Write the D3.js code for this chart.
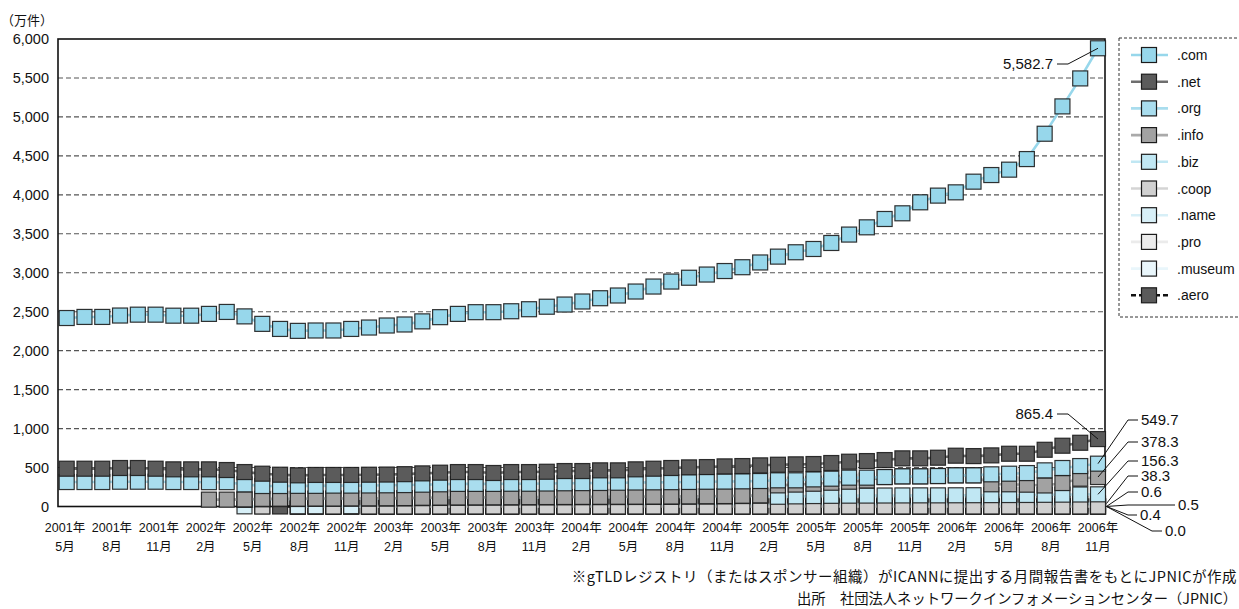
<!DOCTYPE html>
<html>
<head>
<meta charset="utf-8">
<script src="https://cdn.jsdelivr.net/npm/d3@7"></script>
<style>
  body { margin: 0; background: #fff; }
  text { font-family: "Liberation Sans", Arial, "Noto Sans CJK JP", sans-serif; fill: #111; }
  .jp { font-family: "Noto Sans CJK JP", sans-serif; }
</style>
</head>
<body>
<svg id="chart" width="1239" height="609"></svg>
<script>
// 軸ラベル
const tickYears = ["2001年","2001年","2001年","2002年","2002年","2002年","2002年","2003年","2003年","2003年","2003年",
  "2004年","2004年","2004年","2004年","2005年","2005年","2005年","2005年","2006年","2006年","2006年","2006年"];
const tickMonths = ["5月","8月","11月","2月","5月","8月","11月","2月","5月","8月","11月",
  "2月","5月","8月","11月","2月","5月","8月","11月","2月","5月","8月","11月"];
const yTicks = [0,500,1000,1500,2000,2500,3000,3500,4000,4500,5000,5500,6000];

// 登録数（万件）
const comData = [2419,2433,2433,2451,2462,2462,2449,2449,2472,2497,
  2440,2344,2279,2254,2259,2259,2279,2297,2323,2336,
  2376,2430,2472,2494,2494,2506,2532,2564,2592,2631,
  2673,2708,2759,2823,2887,2936,2977,3022,3071,3132,
  3207,3263,3305,3382,3490,3583,3690,3763,3904,3990,
  4032,4169,4254,4323,4459,4784,5135,5494,5881];
const netData = [485,485,485,494,494,485,477,477,477,468,
  442,421,408,400,405,405,405,408,410,415,
  425,434,442,442,430,442,442,446,455,455,
  464,464,477,485,494,502,506,515,519,528,
  536,541,545,558,575,583,596,618,618,626,
  652,647,656,677,677,728,780,818,865.4];
const orgData = [314,314,314,318,318,318,314,314,312,312,
  284,263,263,265,265,268,268,270,272,275,
  280,285,290,290,290,292,292,295,298,300,
  302,305,308,310,312,315,318,320,323,327,
  336,336,348,357,370,370,378,387,387,391,
  400,400,413,421,429,464,494,519,549.7];
const infoData = [null,null,null,null,null,null,null,null,88,88,
  92,98,100,100,102,102,104,105,106,108,
  112,114,116,117,118,119,120,121,122,123,
  124,125,126,127,128,130,132,134,138,143,
  271,281,292,305,318,334,378,387,387,391,
  400,400,285,285,280,270,301,357,378.3];
const bizData = [null,null,null,null,null,null,null,null,null,null,
  85,92,95,96,98,99,100,101,102,104,
  107,110,112,113,114,115,116,117,118,119,
  120,121,122,123,124,126,128,130,134,139,
  125,130,134,137,139,140,141,142,143,143,
  144,145,146,147,148,150,152,154,156.3];
const coopData = [null,null,null,null,null,null,null,null,null,null,
  null,0.3,null,null,null,0.3,null,0.3,0.3,0.3,
  0.3,0.3,0.3,0.3,0.4,0.4,0.4,0.4,0.4,0.4,
  0.4,0.4,0.4,0.4,0.4,0.4,0.5,0.5,0.5,0.5,
  0.5,0.5,0.5,0.5,0.5,0.5,0.5,0.5,0.5,0.5,
  0.5,0.5,0.5,0.6,0.6,0.6,0.6,0.6,0.6];
const nameData = [null,null,null,null,null,null,null,null,null,null,
  2,2,null,3,3,4,4,5,5,6,
  6,7,7,8,8,9,9,10,10,11,
  12,13,14,15,16,17,18,19,20,21,
  22,23,24,25,26,27,28,29,30,30,
  31,31,32,32,33,34,35,36,38.3];
const proData = [null,null,null,null,null,null,null,null,null,null,
  null,null,null,0.1,0.1,0.1,0.1,0.1,0.1,0.2,
  0.2,0.2,0.2,0.2,0.2,0.2,0.2,0.3,0.3,0.3,
  0.3,0.3,0.3,0.3,0.3,0.3,0.3,0.3,0.4,0.4,
  0.4,0.4,0.4,0.4,0.4,0.4,0.4,0.4,0.4,0.5,
  0.5,0.5,0.5,0.5,0.5,0.5,0.5,0.5,0.5];
const museumData = [null,null,null,null,null,null,null,null,null,null,
  null,null,null,0,0,0,0,0,0,0,
  0,0,0,0,0,0,0,0,0,0,
  0,0,0,0,0,0,0,0,0,0,
  0,0,0,0,0,0,0,0,0,0,
  0,0,0,0,0,0,0,0,0];
const aeroData = [null,null,null,null,null,null,null,null,null,null,
  null,null,0.1,0.1,0.1,0.1,0.1,0.1,0.1,0.1,
  0.2,0.2,0.2,0.2,0.2,0.2,0.2,0.2,0.2,0.2,
  0.2,0.2,0.3,0.3,0.3,0.3,0.3,0.3,0.3,0.3,
  0.3,0.3,0.3,0.3,0.3,0.3,0.3,0.3,0.3,0.4,
  0.4,0.4,0.4,0.4,0.4,0.4,0.4,0.4,0.4];

// 最終月の数値ラベル
const calloutText = ["5,582.7","865.4","549.7","378.3","156.3","38.3","0.6","0.5","0.4","0.0"];
const calloutSeries = [".com",".net",".org",".info",".biz",".name",".coop",".pro",".aero",".museum"];

const note1 = "※gTLDレジストリ（またはスポンサー組織）がICANNに提出する月間報告書をもとにJPNICが作成";
const note2 = "出所　社団法人ネットワークインフォメーションセンター（JPNIC）";

const series = [
  {name: ".com",    values: comData,    fill: "#97d7eb", line: "#97d7eb"},
  {name: ".net",    values: netData,    fill: "#5b5b5b", line: "#6e6e6e"},
  {name: ".org",    values: orgData,    fill: "#a9ddee", line: "#a9ddee"},
  {name: ".info",   values: infoData,   fill: "#a2a2a2", line: "#aaaaaa"},
  {name: ".biz",    values: bizData,    fill: "#c0e7f3", line: "#c0e7f3"},
  {name: ".coop",   values: coopData,   fill: "#d0d0d0", line: "#d4d4d4"},
  {name: ".name",   values: nameData,   fill: "#d7eff7", line: "#d7eff7"},
  {name: ".pro",    values: proData,    fill: "#ebebeb", line: "#ebebeb"},
  {name: ".museum", values: museumData, fill: "#e9f6fb", line: "#e9f6fb"},
  {name: ".aero",   values: aeroData,   fill: "#5b5b5b", line: "#111", dash: "5,3"}
];

// レイアウト
const plot = {left: 58, right: 1105, top: 39, bottom: 506.5};
const M = 15; // マーカーの大きさ

const svg = d3.select("#chart");

const x = d3.scalePoint().domain(d3.range(comData.length)).range([66.7, 1098]);
const xTick = d3.scalePoint().domain(d3.range(tickYears.length)).range([65, 1098]);
const y = d3.scaleLinear().domain([0, 6000]).range([plot.bottom, plot.top]);

// グリッド
svg.append("g").selectAll("line")
  .data(yTicks.filter(d => d > 0 && d < 6000))
  .join("line")
    .attr("x1", plot.left).attr("x2", plot.right)
    .attr("y1", d => y(d)).attr("y2", d => y(d))
    .attr("stroke", "#555").attr("stroke-width", 1.1)
    .attr("stroke-dasharray", "5,3");

// 枠
svg.append("rect")
  .attr("x", plot.left).attr("y", plot.top)
  .attr("width", plot.right - plot.left).attr("height", plot.bottom - plot.top)
  .attr("fill", "none").attr("stroke", "#111").attr("stroke-width", 1.6);

// Y軸
const yAxis = d3.axisLeft(y).tickValues(yTicks).tickSize(0).tickPadding(9).tickFormat(d3.format(","));
svg.append("g")
  .attr("transform", `translate(${plot.left},0)`)
  .call(yAxis)
  .call(g => g.select(".domain").remove())
  .attr("font-family", null).attr("font-size", null)
  .selectAll("text").attr("font-size", 14.5).attr("fill", "#111");

svg.append("text").attr("class", "jp")
  .attr("x", 1).attr("y", 25).attr("font-size", 13).text("（万件）");

// X軸ラベル
const xl = svg.append("g").selectAll("text")
  .data(d3.range(tickYears.length))
  .join("text")
    .attr("text-anchor", "middle")
    .attr("font-size", 12.5)
    .attr("transform", i => `translate(${xTick(i)},0)`);
xl.append("tspan").attr("x", 0).attr("y", 532).text(i => tickYears[i]);
xl.append("tspan").attr("x", 0).attr("y", 551).text(i => tickMonths[i]);

// 系列（後ろの系列から描く）
const line = d3.line()
  .defined(d => d != null)
  .x((d, i) => x(i))
  .y(d => y(d));

series.slice().reverse().forEach(s => {
  const g = svg.append("g");
  g.append("path")
    .attr("d", line(s.values))
    .attr("fill", "none")
    .attr("stroke", s.line)
    .attr("stroke-width", 2.6)
    .attr("stroke-dasharray", s.dash || null);
  g.selectAll("rect")
    .data(s.values.map((v, i) => ({v, i})).filter(d => d.v != null))
    .join("rect")
      .attr("x", d => x(d.i) - M / 2)
      .attr("y", d => y(d.v) - M / 2)
      .attr("width", M).attr("height", M)
      .attr("fill", s.fill)
      .attr("stroke", "#1c1c1c").attr("stroke-width", 1.2)
      .attr("stroke-opacity", 0.9);
});

// 数値ラベルと引き出し線
const calloutLayout = [
  {tx: 1053, ty: 64,  anchor: "end",   near: 1068, far: 1057, center: true},
  {tx: 1053, ty: 414, anchor: "end",   near: 1068, far: 1057, center: true},
  {tx: 1141, ty: 420, anchor: "start", near: 1128, far: 1138, center: true},
  {tx: 1141, ty: 442, anchor: "start", near: 1128, far: 1138, center: true},
  {tx: 1141, ty: 461, anchor: "start", near: 1128, far: 1138, center: true},
  {tx: 1141, ty: 476, anchor: "start", near: 1128, far: 1138, center: false},
  {tx: 1141, ty: 492, anchor: "start", near: 1128, far: 1138, center: false},
  {tx: 1178, ty: 505, anchor: "start", near: 1128, far: 1175, center: false},
  {tx: 1140, ty: 515, anchor: "start", near: 1128, far: 1137, center: false},
  {tx: 1165, ty: 531, anchor: "start", near: 1152, far: 1162, center: false}
];
const last = comData.length - 1;
const cg = svg.append("g");
calloutText.forEach((t, k) => {
  const s = series.find(d => d.name === calloutSeries[k]);
  const L = calloutLayout[k];
  const px = x(last) + (L.center ? 0 : M / 2 + 1);
  const py = y(s.values[last]);
  cg.append("polyline")
    .attr("points", `${px},${py} ${L.near},${L.ty} ${L.far},${L.ty}`)
    .attr("fill", "none").attr("stroke", "#111").attr("stroke-width", 1);
  cg.append("text")
    .attr("x", L.tx).attr("y", L.ty + 5)
    .attr("text-anchor", L.anchor)
    .attr("font-size", 15)
    .text(t);
});

// 凡例
const lg = svg.append("g");
lg.append("rect")
  .attr("x", 1119).attr("y", 38).attr("width", 140).attr("height", 279)
  .attr("fill", "#fff").attr("stroke", "#333").attr("stroke-dasharray", "3,2");
const item = lg.selectAll("g.item")
  .data(series)
  .join("g").attr("class", "item")
    .attr("transform", (d, i) => `translate(0,${55 + i * 26.7})`);
item.append("line")
  .attr("x1", 1131).attr("x2", 1168)
  .attr("stroke", d => d.line).attr("stroke-width", 2.6)
  .attr("stroke-dasharray", d => d.dash || null);
item.append("rect")
  .attr("x", 1149 - M / 2).attr("y", -M / 2).attr("width", M).attr("height", M)
  .attr("fill", d => d.fill).attr("stroke", "#1c1c1c").attr("stroke-width", 1.2);
item.append("text")
  .attr("x", 1177).attr("y", 5).attr("font-size", 14)
  .text(d => d.name);

// 注記
svg.append("text").attr("class", "jp")
  .attr("x", 1237).attr("y", 582).attr("text-anchor", "end").attr("font-size", 14.5)
  .attr("letter-spacing", 0.5)
  .text(note1);
svg.append("text").attr("class", "jp")
  .attr("x", 1237).attr("y", 604).attr("text-anchor", "end").attr("font-size", 14.3)
  .text(note2);
</script>
</body>
</html>
